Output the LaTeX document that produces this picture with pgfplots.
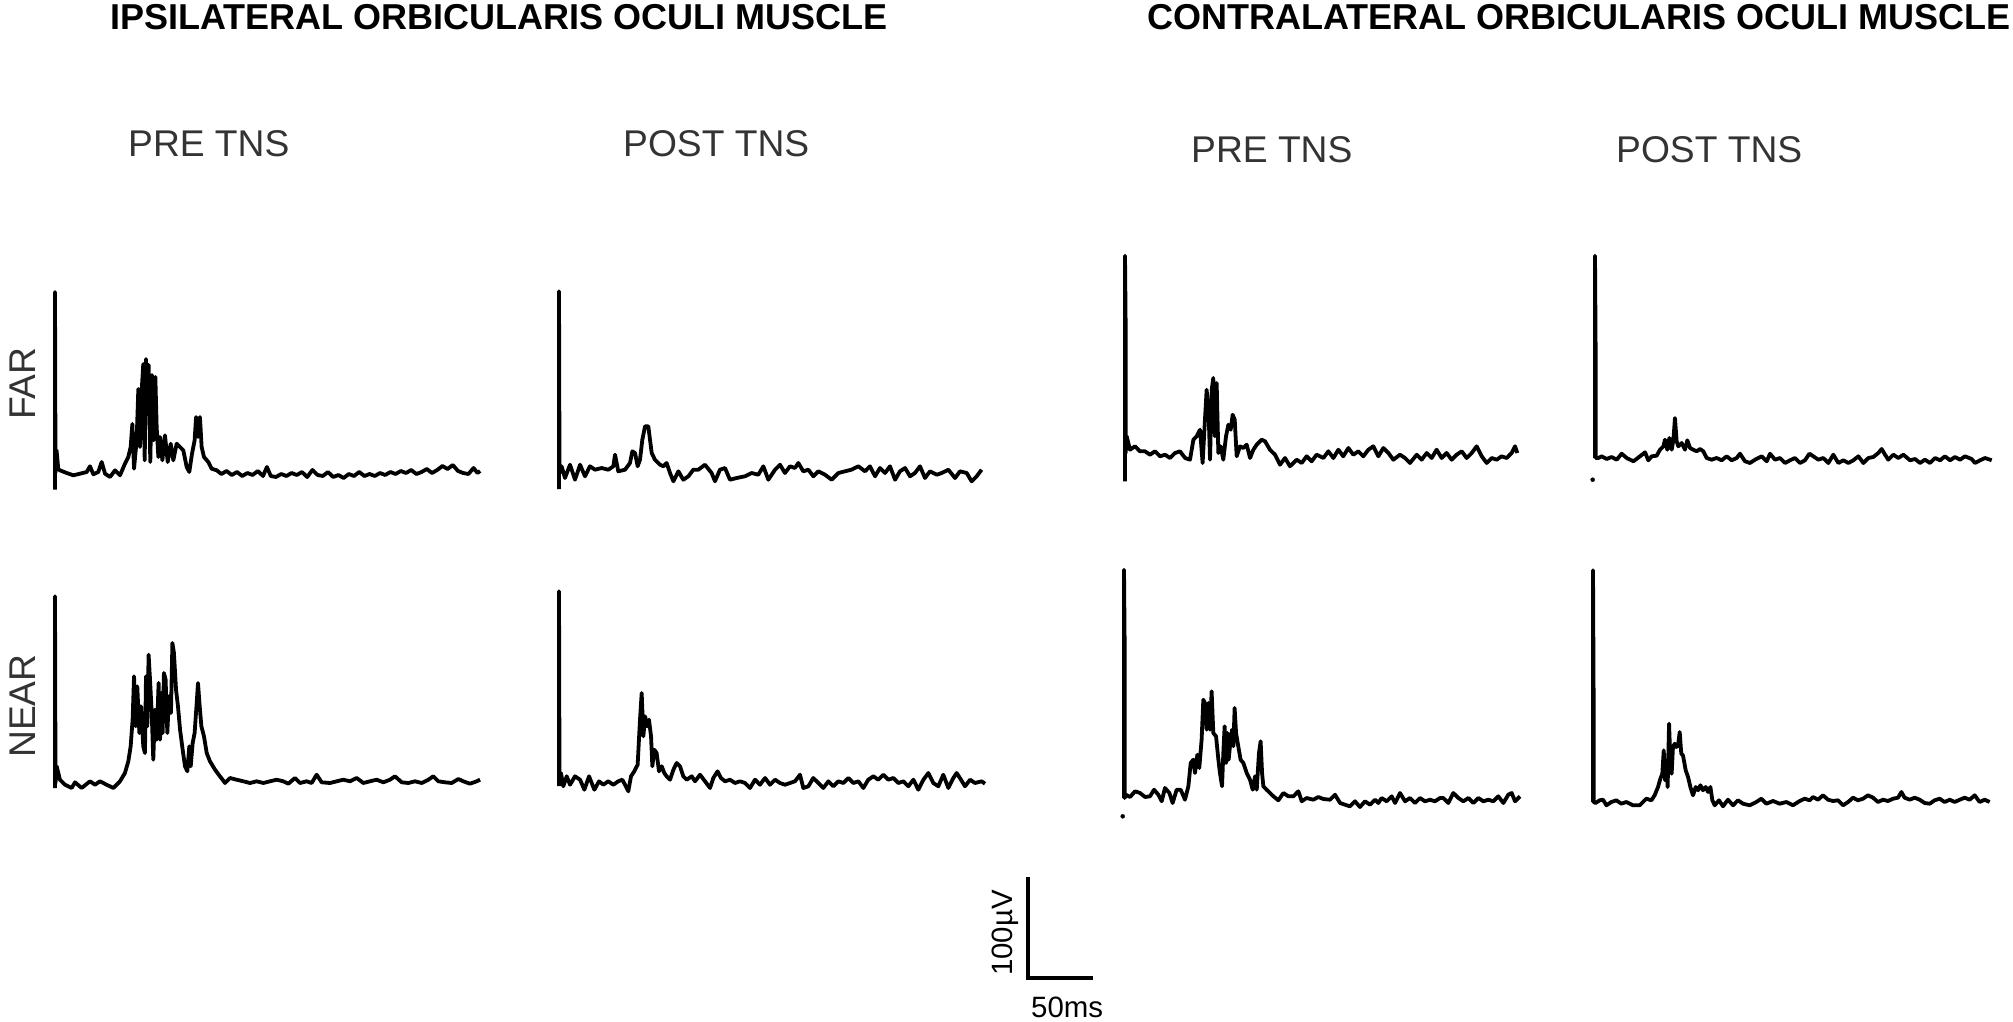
\documentclass[border=0pt]{standalone}
\usepackage{pgfplots}
\pgfplotsset{compat=1.18}
\usepackage{fontspec}
\setmainfont{Liberation Sans}
\definecolor{lab}{HTML}{333333}

% one panel = one EMG sweep; x in ms, y in microvolts (1 ms = 1.3pt, 1 uV = 1pt)
\pgfplotsset{emg/.style={hide axis, x=1.3pt, y=1pt, xmin=-5, xmax=330,
    ymin=-30, ymax=235, clip=false, anchor=origin},
  trace/.style={black, line width=3.8pt, line join=round, mark=none}}

\begin{document}
\begin{tikzpicture}

% ---------- ipsilateral, FAR, pre
\begin{axis}[emg, at={(55pt,-473pt)}]
\addplot[trace] coordinates {(0,-16.7)(0,181)(0.4,0)(1.2,22.7)(2.5,4)(3.8,2.7)(9,0)(14.1,-2.3)(19.2,-0.7)(24.4,1)(26.9,6.7)(29.5,-1.3)(33.3,1)(35.9,11)(38.5,-0.7)(42.3,-4)(46.2,2.7)(50,-2.3)(53.8,9.3)(56.4,16)(58.2,26)(59.5,49)(60.8,4.3)(62.8,32.7)(64.1,84)(65.4,26)(66.7,82.7)(67.9,109)(69,12.7)(70,114)(71,59)(72,108)(73.3,11)(74.6,98)(75.9,32.7)(77.2,96)(78.2,46)(79.5,16)(80.8,36)(82.6,12.7)(84.6,37.7)(86.7,11)(89,29.3)(91,12.7)(93.6,29.3)(96.2,26)(98.7,22.7)(101.3,6)(103.3,1)(105.4,19.3)(107.4,32.7)(108.5,56)(110,36)(111.5,56)(112.8,26)(114.6,16)(117.9,11)(120.5,4.3)(124.4,2.7)(128,-1)(132,2)(136,-2)(140,1)(144,-3)(148,0)(152,-2)(156,2)(160,-3)(163,6)(166,-3)(170,-4)(174,-1)(178,-3)(182,0)(186,-2)(190,1)(194,-4)(198,3)(202,-2)(206,-3)(210,1)(214,-4)(218,-2)(222,-5)(226,-1)(230,-3)(234,1)(238,-3)(242,-1)(246,-3)(250,0)(254,-2)(258,1)(262,-1)(266,2)(270,0)(274,3)(278,-1)(282,1)(286,4)(290,0)(294,3)(298,7)(302,4)(306,8)(310,2)(314,0)(318,-1)(322,5)(325,0)(327,2)};
\end{axis}

% ---------- ipsilateral, FAR, post
\begin{axis}[emg, at={(559pt,-473pt)}]
\addplot[trace] coordinates {(0,-16)(0,181.7)(0.4,0)(2,6.7)(4.6,-5)(8.5,8.3)(12.3,-6.7)(16.2,8.3)(20,-3.3)(23.8,6.7)(27.7,3.3)(32.8,5)(37.9,3.3)(41.8,6.7)(43.1,18.3)(45.6,1.7)(50.8,3.3)(54.6,10)(56.4,21.7)(58.5,20)(60.5,6.7)(62.3,13.3)(64.1,33.3)(66.2,46.7)(68.7,46.7)(70,33.3)(71.3,20)(73.8,13.3)(77.7,8.3)(80.3,6.7)(82.8,10)(85.4,0)(88,-8.3)(91.8,1.7)(95.6,-6.7)(99.5,-3.3)(103.3,3.3)(107.2,3.3)(112.3,8.3)(117.4,0)(120,-8.3)(123.8,3.3)(127.7,5)(131.5,-6.7)(136.7,-5)(143,-3.3)(148.2,0)(153.3,-1.7)(157.2,6.7)(161,-6.7)(166.2,3.3)(170,8.3)(173.8,0)(177.7,6.7)(181.5,5)(184.1,10)(187.9,1.7)(191.8,3.3)(195.6,-3.3)(199.5,1.7)(204.6,-1.7)(209.7,-6.7)(214.9,0)(220,1.7)(225,3.3)(230.3,6.7)(235.4,1.7)(239.2,6.7)(243.1,-3.3)(246.9,5)(250.8,0)(254.6,6.7)(258.5,-6.7)(262.3,1.7)(266.2,5)(270,-3.3)(273.8,0)(277.7,6.7)(281.5,-5)(285.4,1.7)(290.5,-1.7)(294.4,0)(299.5,3.3)(304.6,-5)(308.5,1.7)(313.6,0)(317.4,-8.3)(321.3,-3.3)(325.1,3.3)};
\end{axis}

% ---------- contralateral, FAR, pre
\begin{axis}[emg, at={(1125pt,-453pt)}]
\addplot[trace] coordinates {(0,-28.3)(0,197.3)(0.5,128)(0.5,0)(1.3,16.7)(3.8,3.3)(7.7,6.7)(11.5,1.7)(15.4,1.7)(19.2,-1.7)(23.1,1.7)(26.9,-3.3)(30.8,-1.7)(34.6,-5)(38.5,0)(42.3,1.7)(46.2,-5)(50,-6.7)(52.6,13.3)(55.1,16.7)(57.7,23.3)(59.7,-10)(61.5,33.3)(62.8,63.3)(64.4,36.7)(65.4,-6.7)(66.7,63.3)(67.9,75)(69.2,16.7)(70.5,70)(71.8,0)(73.6,6.7)(75.6,-6.7)(77.7,16.7)(79.5,28.3)(81.3,23.3)(82.8,38.3)(84.4,33.3)(85.9,-3.3)(88.5,6.7)(91,5)(93.6,8.3)(96.2,-5)(98.7,3.3)(101.3,8.3)(105.1,13.3)(107.7,11.7)(111.5,3.3)(115.4,-1.7)(119.2,-11.7)(123.1,-5)(126.9,-13.3)(132.1,-6.7)(135.9,-10)(139.7,-3.3)(143.6,-8.3)(147.4,-1.7)(152.6,-5)(156.4,1.7)(160.3,-5)(164.1,3.3)(167.9,-3.3)(171.8,5)(175.6,-1.7)(179.5,1.7)(183.3,-3.3)(187.2,3.3)(191,6.7)(194.9,-3.3)(198.7,5)(202.6,0)(206.4,-6.7)(211.5,-1.7)(215.4,-5)(219.2,-10)(224.4,-1.7)(228.2,-6.7)(232.1,0)(235.9,-5)(239.7,3.3)(243.6,-5)(247.4,0)(251.3,-6.7)(255.1,-1.7)(259,1.7)(262.8,-5)(266.7,0)(270.5,6.7)(274.4,-3.3)(278.2,-10)(282.1,-5)(285.9,-6.7)(289.7,-3.3)(293.6,-5)(297.4,0)(300,6.7)(301.8,0)};
\end{axis}

% ---------- contralateral, FAR, post
\begin{axis}[emg, at={(1595pt,-458pt)}]
\addplot[only marks, mark=*, mark size=2pt, black] coordinates {(-1.8,-21.7)};
\addplot[trace] coordinates {(0,0)(0,202.3)(0.5,105)(0.5,0)(2.6,0)(5.1,1.7)(9,-1)(12.8,1)(16.7,-1.7)(20.5,4.3)(24.4,0)(29.5,-3.3)(34.6,1.7)(38.5,5.7)(41,-2.3)(43.6,1.7)(47.4,2.3)(50,8.3)(52.6,11.7)(53.8,18.3)(55.6,8.3)(57.2,20)(59,8.3)(60.3,18.3)(61.5,40)(62.8,16.7)(64.1,11.7)(66.7,15)(69.2,8.3)(71,17.7)(73.1,10)(75.6,8.3)(78.2,6.7)(80.8,9)(83.3,6.7)(85.9,0)(89.7,-1.7)(93.6,0)(97.4,-2.3)(101.3,1.7)(105.1,-2.3)(109,0)(111.5,4.3)(115.4,-3.3)(119.2,-5)(123.1,-1.7)(128.2,1.7)(132.1,-3.3)(134.6,4.3)(138.5,-1.7)(142.3,0)(146.2,-5)(150,-2.3)(153.8,0)(157.7,-5)(161.5,-2.3)(164.9,4.3)(167.9,1.7)(171.8,-1.7)(175.6,0)(179.5,-5)(183.3,3.3)(187.2,-5)(191,-2.3)(194.9,-5)(198.7,-2.3)(202.6,1.7)(206.4,-5)(210.3,0)(214.1,1)(217.9,5)(220.5,9)(223.1,3.3)(225.6,-1.7)(229.5,3.3)(233.3,0)(237.2,3.3)(242.3,-2.3)(246.2,-1)(250,-5)(253.8,-1.7)(257.7,-5)(261.5,0)(265.4,-2.3)(269.2,1.7)(273.1,-2.3)(276.9,1)(280.8,-1.7)(284.6,1.7)(289.7,-1)(292.3,-5)(296.2,-2.3)(300,0)(305.1,-2.3)};
\end{axis}

% ---------- ipsilateral, NEAR, pre
\begin{axis}[emg, at={(55pt,-783pt)}]
\addplot[trace] coordinates {(0,-5)(0,186.7)(0.4,0)(1.3,16.7)(3.8,3.3)(7.7,-1.7)(12.8,-5)(15.4,0.7)(20.5,-5)(26.9,1.7)(30.8,-1.7)(34.6,1.7)(39.7,-1.7)(44.9,-5)(50,1.7)(53.8,10)(56.4,21.7)(58.2,36.7)(59.7,63.3)(60.8,106.7)(62.1,56.7)(63.3,96.7)(64.9,50)(66.2,76.7)(67.9,36.7)(69.2,30)(70,106.7)(71,56.7)(72,128.3)(73.1,103.3)(74.4,70)(75.6,23.3)(76.9,73.3)(78.2,43.3)(79.7,100)(80.8,43.3)(81.8,90)(82.8,50)(83.8,110)(85.1,103.3)(86.4,50)(87.7,86.7)(89.2,70)(90.3,140)(91.5,130)(93.1,93.3)(94.6,76.7)(96.2,53.3)(98.2,33.3)(100,16.7)(101.8,11.7)(103.3,36.7)(104.4,16.7)(105.9,40)(107.4,50)(109,80)(110,100)(111.3,76.7)(112.6,56.7)(114.6,46.7)(116.7,30)(119.2,21.7)(123.1,13.3)(126.9,6.7)(130.8,0)(134.6,5)(139.7,3.3)(144.9,1.7)(150,0)(155.1,1.7)(160.3,0)(165.4,1.7)(170.5,3.3)(175.6,1.7)(179.5,-0.7)(184.6,5)(188.5,0)(193.6,1.7)(197.4,0)(201.3,8.3)(205.1,0.7)(211.5,0)(216.7,1.7)(221.8,3.3)(226.9,1.7)(232.1,5)(237.2,0)(242.3,1.7)(247.4,3.3)(252.6,0.7)(257.7,3.3)(261.5,6.7)(266.7,0.7)(271.8,0)(276.9,1.7)(282.1,0)(287.2,3.3)(291,6.7)(294.9,1.7)(300,0.7)(305.1,0)(310.3,4)(314.1,1.7)(319.2,-0.7)(324.4,1.7)(327,3.3)};
\end{axis}

% ---------- ipsilateral, NEAR, post
\begin{axis}[emg, at={(559pt,-783pt)}]
\addplot[trace] coordinates {(0,-3)(0,191.7)(0.4,0)(1.5,10)(3.3,-3.3)(5.9,6.7)(8.5,-1.7)(12.3,6.7)(16.2,3.3)(19.5,-6.7)(23.1,6.7)(27.2,-6.7)(30.8,1.7)(34.1,-1.7)(37.9,1.7)(41.8,-1.7)(45.6,1.7)(48.7,3.3)(50.8,-1.7)(53.3,-8.3)(55.4,6.7)(57.9,11.7)(60.5,18.3)(62.3,63.3)(63.6,90)(64.9,46.7)(66.2,66.7)(67.9,56.7)(69.2,63.3)(70.8,46.7)(71.8,16.7)(73.3,33.3)(75.1,30)(76.9,11.7)(79,16.7)(81,10)(82.8,6.7)(85.4,3.3)(88,13.3)(90.5,20)(93.1,16.7)(95.6,6.7)(98.2,3.3)(102.1,6.7)(104.6,1.7)(108.5,8.3)(112.3,1.7)(116.2,-5)(118.7,5)(122,11.7)(124.6,5)(127.7,1.7)(131.5,3.3)(135.4,0)(139.2,1.7)(143.1,0)(146.9,-5)(150.8,3.3)(154.6,-1.7)(158.5,5)(162.3,-1.7)(166.2,3.3)(170,0)(173.8,-1.7)(177.7,0)(181.5,1.7)(185.4,8.3)(187.9,-5)(191.8,-3.3)(195.6,5)(199.5,0)(203.3,-5)(207.2,1.7)(211,-3.3)(214.9,1.7)(218.7,0)(222.6,5)(226.4,0)(230.3,1.7)(234.1,-5)(237.9,3.3)(241.8,6.7)(245.6,3.3)(249.5,8.3)(253.3,3.3)(257.2,5)(261,0)(264.9,1.7)(268.7,-3.3)(272.6,3.3)(276.4,-6.7)(280.3,3.3)(284.1,10)(287.9,0)(291.8,-3.3)(295.6,8.3)(299.5,-5)(303.3,5)(305.9,10)(309.2,3.3)(312.3,-3.3)(316.2,3.3)(320,0)(325.1,1.7)(327.7,-0.7)};
\end{axis}

% ---------- contralateral, NEAR, pre
\begin{axis}[emg, at={(1124pt,-798pt)}]
\addplot[only marks, mark=*, mark size=2pt, black] coordinates {(-1,-18.3)};
\addplot[trace] coordinates {(0,0)(0,228.3)(0.5,155)(0.5,0)(1.5,3.3)(4.6,1)(8.5,6.7)(12.3,5)(16.2,1)(20,1.7)(23.1,8.3)(26.4,3.3)(29,-3.3)(31.5,10)(34.9,5)(37.4,-5)(40.5,8.3)(43.6,8.3)(46.9,-1.7)(49.5,11.7)(51.3,35)(53.3,38.3)(54.6,25)(56.4,43.3)(57.9,30)(59.7,58.3)(61,98.3)(62.3,95)(63.6,68.3)(64.9,95)(66.2,68.3)(67.4,106.7)(68.7,65)(70.8,61.7)(72.6,38.3)(73.8,25)(75.4,11.7)(76.4,45)(77.4,71.7)(78.5,35)(79.5,65)(80.5,38.3)(82,58.3)(83.1,68.3)(84.1,51.7)(85.1,90)(86.2,65)(87.9,51.7)(89.7,38.3)(91.8,35)(94.4,25)(96.9,18.3)(99,8.3)(100.8,21.7)(102.1,8.3)(103.8,45)(105.1,56.7)(106.2,25)(107.2,11.7)(109.7,8.3)(112.3,5)(114.9,1.7)(118.7,-2.3)(122.6,5)(126.4,1.7)(130.3,1.7)(134.1,6.7)(136.7,-3.3)(140.5,0)(145.6,-1.7)(149.5,1)(153.3,-1)(158.5,-1.7)(162.3,3.3)(166.2,-5)(170,-6.7)(173.8,-8.3)(177.7,-3.3)(181.5,-9)(185.4,-3.3)(189.2,-6.7)(193.1,-1.7)(195.6,-5)(198.2,0)(202.1,-3.3)(205.9,1.7)(208.5,-5)(212.3,5)(216.2,-3.3)(220,0)(223.8,-5)(227.7,0)(231.5,-3.3)(235.4,-1.7)(239.2,-3.3)(243.1,0)(245.6,0)(249.5,-5)(253.3,5)(257.2,0)(261,-3.3)(264.9,0)(268.7,-5)(272.6,0)(276.4,-3.3)(280.3,-1.7)(284.1,-3.3)(287.9,1.7)(291.8,-5)(295.6,3.3)(298.2,5)(300.8,-3.3)(304.6,1.7)};
\end{axis}

% ---------- contralateral, NEAR, post
\begin{axis}[emg, at={(1593pt,-802pt)}]
\addplot[trace] coordinates {(0,0)(0,231.7)(0.5,100)(0.5,0)(2,-1)(5.1,1.7)(7.7,2.3)(10.3,-3.3)(14.1,0)(17.9,1.7)(21.8,-1.7)(25.6,0)(30.8,-3.3)(35.9,-3.3)(41,3.3)(44.9,1.7)(47.4,6.7)(50,15)(51.8,23.3)(53.3,28.3)(54.4,51.7)(55.4,21.7)(56.4,41.7)(57.4,15)(58.5,78.3)(59.5,41.7)(60.5,28.3)(61.5,55)(62.8,58.3)(64.1,55)(65.4,56.7)(66.7,70)(67.9,48.3)(69.2,46.7)(71.3,31.7)(73.1,25)(74.9,15)(76.9,6.7)(79,15)(80.8,11.7)(82.6,16.7)(84.6,11.7)(86.7,15)(88.5,10)(90.3,15)(91.8,1.7)(93.6,-3.3)(96.9,1.7)(100,-4.3)(103.8,2.3)(107.7,-3.3)(111.5,1.7)(115.4,-1.7)(120.5,-3.3)(125.6,0)(129.5,3.3)(133.3,-1.7)(138.5,1)(143.6,-1.7)(148.7,0)(153.8,-3.3)(159,1)(162.8,3.3)(166.7,1.7)(169.2,5)(173.1,2.3)(176.9,6.7)(180.8,2.3)(184.6,1)(188.5,1.7)(192.3,-3.3)(196.2,0)(200,4.3)(203.8,1.7)(207.7,3.3)(211.5,6.7)(215.4,4.3)(219.2,0)(223.1,2.3)(226.9,1)(230.8,3.3)(234.6,4.3)(237.2,10)(239.7,4.3)(243.6,2.3)(247.4,4.3)(251.3,2.3)(255.1,-1)(259,-1.7)(262.8,1.7)(266.7,3.3)(270.5,0)(274.4,2.3)(278.2,0)(282.1,2.3)(285.9,4.3)(289.7,2.3)(293.6,6.7)(297.4,0)(301.3,2.3)(305.1,0)};
\end{axis}

% ---------- calibration bar: 100 uV / 50 ms
\begin{axis}[emg, at={(1028pt,-978pt)}]
\addplot[black, line width=3.8pt, line join=miter] coordinates {(0,101)(0,0)(50,0)};
\end{axis}

% ---------- texts
\node[anchor=base west, inner sep=0, font=\bfseries\fontsize{36}{42}\selectfont] at (110pt,-29.3pt) {IPSILATERAL ORBICULARIS OCULI MUSCLE};
\node[anchor=base east, inner sep=0, font=\bfseries\fontsize{36}{42}\selectfont] at (2011pt,-29.3pt) {CONTRALATERAL ORBICULARIS OCULI MUSCLE};
\begin{scope}[every node/.style={anchor=base west, inner sep=0, text=lab, font=\fontsize{37.2}{44}\selectfont}]
\node at (128pt,-156.7pt) {PRE TNS};
\node at (623pt,-156.7pt) {POST TNS};
\node at (1191pt,-163pt) {PRE TNS};
\node at (1616pt,-163pt) {POST TNS};
\node[rotate=90] at (35pt,-420pt) {FAR};
\node[rotate=90] at (35pt,-758pt) {NEAR};
\end{scope}
\node[rotate=90, anchor=base west, inner sep=0, font=\fontsize{29.4}{35}\selectfont] at (1012pt,-976pt) {100µV};
\node[anchor=base west, inner sep=0, font=\fontsize{29.4}{35}\selectfont] at (1031pt,-1017pt) {50ms};

\pgfresetboundingbox
\path[use as bounding box] (0pt,0pt) rectangle (2013pt,-1022pt);
\end{tikzpicture}
\end{document}
